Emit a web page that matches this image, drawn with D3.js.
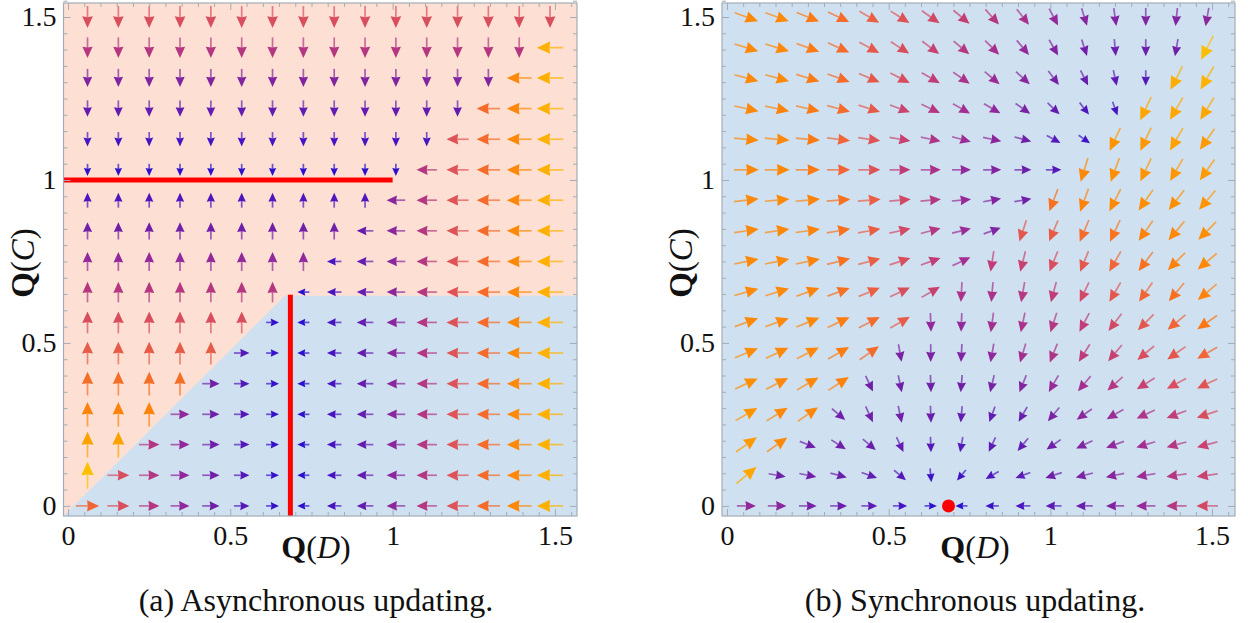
<!DOCTYPE html>
<html>
<head>
<meta charset="utf-8">
<script src="https://cdn.jsdelivr.net/npm/d3@7"></script>
<style>
  body { margin: 0; background: #fff; }
  svg { display: block; }
</style>
</head>
<body>
<svg id="chart" width="1248" height="623"></svg>
<script>
// sample points of both vector fields (Q(D) on x, Q(C) on y)
const gridX = [0.06, 0.155, 0.25, 0.345, 0.44, 0.535, 0.63, 0.725, 0.82, 0.915, 1.01, 1.105, 1.2, 1.295, 1.39, 1.485];
const gridY = [0, 0.094, 0.188, 0.281, 0.375, 0.469, 0.563, 0.656, 0.75, 0.844, 0.938, 1.031, 1.125, 1.219, 1.313, 1.406, 1.5];

const tickValues = [0, 0.5, 1, 1.5];
const tickLabels = ["0", "0.5", "1", "1.5"];

// (a) asynchronous: direction of each arrow, row by row from y=0 (U up, D down, L left, R right)
const asyncDirs = [
  "RRRRRRRLLLLLLLLL",
  "URRRRRRLLLLLLLLL",
  "UURRRRRLLLLLLLLL",
  "UUURRRRLLLLLLLLL",
  "UUUURRRLLLLLLLLL",
  "UUUUURRLLLLLLLLL",
  "UUUUUURLLLLLLLLL",
  "UUUUUUULLLLLLLLL",
  "UUUUUUUULLLLLLLL",
  "UUUUUUUUULLLLLLL",
  "UUUUUUUUUULLLLLL",
  "DDDDDDDDDDDLLLLL",
  "DDDDDDDDDDDDLLLL",
  "DDDDDDDDDDDDDLLL",
  "DDDDDDDDDDDDDDLL",
  "DDDDDDDDDDDDDDDL",
  "DDDDDDDDDDDDDDDD"
];
// relative size of vertical arrows per row, of horizontal arrows per column
const asyncRowMag = [0, 1.0, 0.9, 0.8, 0.73, 0.66, 0.6, 0.5, 0.4, 0.3, 0.17, 0.05, 0.14, 0.25, 0.35, 0.5, 0.6];
const asyncColMag = [0.7, 0.6, 0.5, 0.4, 0.3, 0.2, 0.08, 0.05, 0.15, 0.26, 0.38, 0.5, 0.62, 0.72, 0.82, 0.95];

const asyncBasinTop = 0.645;     // upper edge of the blue basin
const asyncBasinCorner = 0.668;  // where the diagonal meets it
const asyncHLine = { y: 1, x1: 1 };
const asyncVLine = { x: 0.685, y1: 0.648 };

// (b) synchronous: angle in degrees and relative size, row by row from y=0
const syncAngle = [
  [0, 0, 0, 0, 0, 0, 0, 180, 180, 180, 180, 180, 180, 180, 180, 180],
  [40, -10, -12, -15, -20, -40, -85, -130, -150, -160, -162, -165, -168, -170, -172, -172],
  [35, 35, -22, -33, -40, -65, -88, -100, -115, -130, -145, -155, -160, -163, -165, -165],
  [30, 32, 35, -40, -65, -78, -88, -95, -110, -120, -130, -145, -150, -155, -160, -162],
  [25, 27, 30, 33, -65, -78, -88, -95, -103, -112, -120, -130, -138, -148, -152, -155],
  [22, 25, 27, 30, 35, -80, -90, -93, -100, -107, -112, -122, -130, -140, -145, -150],
  [20, 20, 22, 25, 27, 30, -88, -92, -98, -102, -108, -118, -127, -135, -140, -145],
  [16, 17, 20, 20, 22, 25, 30, -93, -95, -100, -105, -115, -120, -125, -130, -140],
  [12, 12, 12, 14, 15, 18, 20, 25, -99, -104, -112, -112, -120, -127, -135, -140],
  [8, 8, 8, 10, 10, 12, 15, 14, 20, -108, -113, -113, -115, -125, -130, -135],
  [7, 5, 5, 5, 5, 5, 5, 5, 10, 10, -111, -110, -117, -125, -128, -130],
  [0, 0, 0, 0, 0, 0, 0, 0, 0, 0, 0, -107, -110, -115, -120, -125],
  [-5, -5, -5, -7, -8, -10, -12, -15, -12, -15, -28, -35, -115, -115, -120, -125],
  [-12, -12, -13, -15, -18, -20, -25, -30, -30, -35, -43, -52, -70, -115, -120, -122],
  [-15, -15, -17, -20, -23, -27, -30, -35, -40, -42, -53, -63, -78, -90, -117, -120],
  [-17, -17, -20, -25, -28, -33, -37, -40, -45, -50, -60, -72, -85, -90, -100, -117],
  [-20, -20, -22, -25, -30, -32, -35, -40, -48, -52, -62, -73, -82, -90, -96, -100]
];
const syncMag = [
  [0.4, 0.38, 0.32, 0.28, 0.22, 0.14, 0.06, 0.05, 0.1, 0.17, 0.22, 0.28, 0.35, 0.42, 0.5, 0.58],
  [0.92, 0.3, 0.3, 0.28, 0.25, 0.2, 0.12, 0.12, 0.18, 0.22, 0.3, 0.33, 0.38, 0.43, 0.5, 0.55],
  [0.88, 0.82, 0.3, 0.3, 0.28, 0.25, 0.2, 0.2, 0.22, 0.25, 0.3, 0.35, 0.4, 0.45, 0.5, 0.55],
  [0.86, 0.82, 0.82, 0.3, 0.3, 0.3, 0.28, 0.25, 0.25, 0.28, 0.33, 0.38, 0.43, 0.48, 0.53, 0.6],
  [0.84, 0.82, 0.82, 0.8, 0.3, 0.3, 0.3, 0.3, 0.32, 0.36, 0.42, 0.45, 0.5, 0.55, 0.6, 0.63],
  [0.83, 0.82, 0.82, 0.78, 0.72, 0.33, 0.33, 0.35, 0.4, 0.45, 0.48, 0.52, 0.55, 0.6, 0.64, 0.7],
  [0.82, 0.82, 0.82, 0.78, 0.72, 0.66, 0.4, 0.4, 0.45, 0.47, 0.5, 0.53, 0.58, 0.64, 0.7, 0.76],
  [0.82, 0.82, 0.8, 0.74, 0.67, 0.6, 0.55, 0.47, 0.47, 0.5, 0.53, 0.58, 0.64, 0.7, 0.74, 0.8],
  [0.82, 0.82, 0.8, 0.74, 0.67, 0.6, 0.53, 0.45, 0.53, 0.55, 0.6, 0.64, 0.7, 0.74, 0.8, 0.82],
  [0.82, 0.82, 0.8, 0.74, 0.67, 0.58, 0.5, 0.43, 0.35, 0.64, 0.66, 0.72, 0.75, 0.8, 0.82, 0.84],
  [0.82, 0.82, 0.8, 0.74, 0.67, 0.58, 0.5, 0.42, 0.35, 0.3, 0.74, 0.8, 0.82, 0.84, 0.84, 0.86],
  [0.82, 0.82, 0.77, 0.7, 0.62, 0.53, 0.47, 0.4, 0.35, 0.28, 0.2, 0.82, 0.84, 0.86, 0.87, 0.88],
  [0.82, 0.82, 0.77, 0.7, 0.62, 0.55, 0.48, 0.43, 0.38, 0.3, 0.2, 0.12, 0.86, 0.87, 0.9, 0.88],
  [0.82, 0.8, 0.77, 0.72, 0.65, 0.56, 0.5, 0.45, 0.4, 0.33, 0.25, 0.18, 0.15, 0.91, 0.92, 0.92],
  [0.82, 0.82, 0.77, 0.72, 0.65, 0.6, 0.53, 0.47, 0.43, 0.38, 0.32, 0.27, 0.23, 0.2, 0.94, 0.96],
  [0.82, 0.82, 0.77, 0.72, 0.65, 0.6, 0.55, 0.5, 0.46, 0.41, 0.35, 0.3, 0.28, 0.28, 0.3, 0.99],
  [0.82, 0.82, 0.77, 0.72, 0.67, 0.62, 0.58, 0.54, 0.5, 0.46, 0.41, 0.37, 0.35, 0.35, 0.35, 0.38]
];
const syncFixedPoint = [0.685, 0];

const captions = ["(a) Asynchronous updating.", "(b) Synchronous updating."];

// ---------------------------------------------------------------
const svg = d3.select("#chart");
const serif = "'Liberation Serif', 'DejaVu Serif', serif";
const frameColor = "#a3acb6";
const pink = "#fde0d3", blue = "#cfe1f0";

const magColor = d3.scaleLinear()
  .domain([0, 0.15, 0.3, 0.42, 0.52, 0.6, 0.68, 0.76, 0.86, 1])
  .range(["#1e10d2", "#4814c2", "#7020a8", "#972a98", "#bd3a7c", "#d94e5e", "#ec6040", "#fb7716", "#ff9400", "#ffc000"])
  .interpolate(d3.interpolateRgb)
  .clamp(true);

const panels = [
  { x: d3.scaleLinear().domain([-0.014, 1.568]).range([63.5, 577]),
    y: d3.scaleLinear().domain([-0.031, 1.543]).range([516, 3]),
    cx: 316 },
  { x: d3.scaleLinear().domain([-0.0155, 1.571]).range([722, 1235]),
    y: d3.scaleLinear().domain([-0.031, 1.543]).range([516, 3]),
    cx: 975 }
];

function arrow(g, px, py, ux, uy, m) {
  const L = 10 + 17 * Math.pow(m, 0.7);
  const h = 3.5 + 0.37 * L, hw = 0.46 * h;
  const tx = px - ux * L / 2, ty = py - uy * L / 2;
  const hx = px + ux * L / 2, hy = py + uy * L / 2;
  const bx = hx - ux * h, by = hy - uy * h;
  const c = magColor(m);
  g.append("line")
    .attr("x1", tx).attr("y1", ty).attr("x2", bx + ux).attr("y2", by + uy)
    .attr("stroke", c).attr("stroke-width", 1.7).attr("stroke-opacity", 0.7);
  g.append("path")
    .attr("d", `M${hx},${hy}L${bx - uy * hw},${by + ux * hw}L${bx + ux * 0.8},${by + uy * 0.8}L${bx + uy * hw},${by - ux * hw}Z`)
    .attr("fill", c);
}

function frame(p, i) {
  const g = svg.append("g");
  const [x0, x1] = p.x.range(), [y0, y1] = p.y.range();
  const minor = d3.range(0, 1.56, 0.05).filter(v => Math.abs(v * 2 - Math.round(v * 2)) > 1e-6);

  const axes = [
    [d3.axisBottom(p.x), `translate(0,${y0})`],
    [d3.axisTop(p.x), `translate(0,${y1})`],
    [d3.axisLeft(p.y), `translate(${x0},0)`],
    [d3.axisRight(p.y), `translate(${x1},0)`]
  ];
  axes.forEach(([ax, tr], k) => {
    const ga = g.append("g").attr("transform", tr)
      .call(ax.tickValues(minor).tickSize(-4).tickFormat(""));
    ga.select(".domain").remove();
    const gb = g.append("g").attr("transform", tr)
      .call(ax.tickValues(tickValues).tickSize(-7).tickPadding(k === 0 ? 9 : 7)
        .tickFormat((d, j) => (k === 0 || k === 2) ? tickLabels[j] : ""));
    gb.select(".domain").remove();
    g.selectAll(".tick line").attr("stroke", frameColor);
    gb.selectAll("text").attr("font-family", serif).attr("font-size", 28).attr("fill", "#111");
  });

  g.append("rect").attr("x", x0).attr("y", y1).attr("width", x1 - x0).attr("height", y0 - y1)
    .attr("fill", "none").attr("stroke", frameColor).attr("stroke-width", 1.2);

  // axis titles
  const xt = svg.append("text").attr("x", p.cx).attr("y", 558)
    .attr("text-anchor", "middle").attr("font-family", serif).attr("font-size", 32).attr("fill", "#111");
  xt.append("tspan").attr("font-weight", "bold").text("Q");
  xt.append("tspan").text("(");
  xt.append("tspan").attr("font-style", "italic").text("D");
  xt.append("tspan").text(")");

  const yt = svg.append("text").attr("transform", `translate(${x0 - 30},263) rotate(-90)`)
    .attr("text-anchor", "middle").attr("font-family", serif).attr("font-size", 33).attr("fill", "#111");
  yt.append("tspan").attr("font-weight", "bold").text("Q");
  yt.append("tspan").text("(");
  yt.append("tspan").attr("font-style", "italic").text("C");
  yt.append("tspan").text(")");

  svg.append("text").attr("x", p.cx).attr("y", 611).attr("text-anchor", "middle")
    .attr("font-family", serif).attr("font-size", 32).attr("fill", "#111").text(captions[i]);
}

// ---- panel (a)
{
  const p = panels[0];
  const [xd0, xd1] = p.x.domain(), [yd0, yd1] = p.y.domain();
  const g = svg.append("g");
  g.append("rect").attr("x", p.x(xd0)).attr("y", p.y(yd1))
    .attr("width", p.x(xd1) - p.x(xd0)).attr("height", p.y(yd0) - p.y(yd1)).attr("fill", pink);
  g.append("path")
    .attr("d", d3.line()([[p.x(xd0), p.y(yd0)], [p.x(asyncBasinCorner), p.y(asyncBasinTop)],
      [p.x(xd1), p.y(asyncBasinTop)], [p.x(xd1), p.y(yd0)]]) + "Z")
    .attr("fill", blue);

  const ga = svg.append("g");
  gridY.forEach((yv, r) => {
    gridX.forEach((xv, c) => {
      const d = asyncDirs[r][c];
      const vert = d === "U" || d === "D";
      const m = vert ? asyncRowMag[r] : asyncColMag[c];
      const u = { U: [0, -1], D: [0, 1], L: [-1, 0], R: [1, 0] }[d];
      arrow(ga, p.x(xv), p.y(yv), u[0], u[1], m);
    });
  });

  svg.append("line").attr("x1", p.x(xd0)).attr("x2", p.x(asyncHLine.x1))
    .attr("y1", p.y(asyncHLine.y)).attr("y2", p.y(asyncHLine.y))
    .attr("stroke", "#ff0000").attr("stroke-width", 5);
  svg.append("line").attr("x1", p.x(asyncVLine.x)).attr("x2", p.x(asyncVLine.x))
    .attr("y1", p.y(yd0)).attr("y2", p.y(asyncVLine.y1))
    .attr("stroke", "#ff0000").attr("stroke-width", 5);
  frame(p, 0);
}

// ---- panel (b)
{
  const p = panels[1];
  const [xd0, xd1] = p.x.domain(), [yd0, yd1] = p.y.domain();
  svg.append("rect").attr("x", p.x(xd0)).attr("y", p.y(yd1))
    .attr("width", p.x(xd1) - p.x(xd0)).attr("height", p.y(yd0) - p.y(yd1)).attr("fill", blue);
  const gb = svg.append("g");
  gridY.forEach((yv, r) => {
    gridX.forEach((xv, c) => {
      const a = syncAngle[r][c] * Math.PI / 180;
      arrow(gb, p.x(xv), p.y(yv), Math.cos(a), -Math.sin(a), syncMag[r][c]);
    });
  });
  svg.append("circle").attr("cx", p.x(syncFixedPoint[0])).attr("cy", p.y(syncFixedPoint[1]))
    .attr("r", 6.5).attr("fill", "#ff0000");
  frame(p, 1);
}
</script>
</body>
</html>
